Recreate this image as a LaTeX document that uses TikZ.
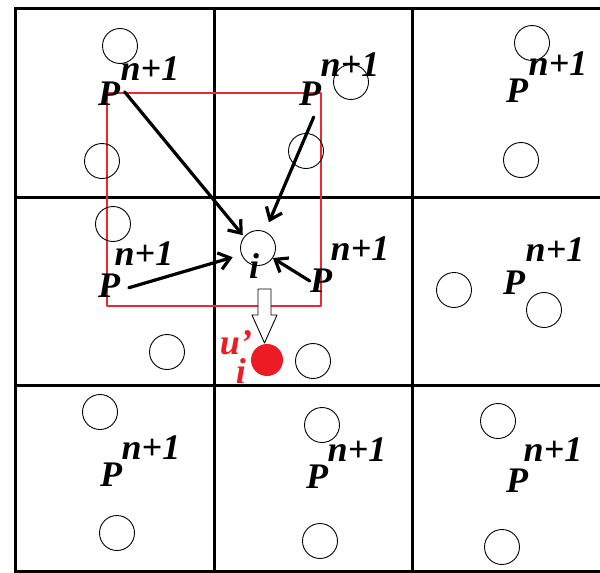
\documentclass[tikz,border=0pt]{standalone}
\usepackage{fontspec}
\setmainfont{Liberation Serif}
\usepackage{xcolor}
\usetikzlibrary{arrows.meta,calc}
\definecolor{boxred}{RGB}{236,40,50}
\definecolor{dotred}{RGB}{237,28,36}
\tikzset{
  ptc/.style={circle, draw, minimum size=35pt, inner sep=0pt, line width=0.9pt},
  hit/.style={circle, fill=dotred, minimum size=32pt, inner sep=0pt},
  lbl/.style={inner sep=0pt, font=\fontsize{36}{36}\selectfont\bfseries\itshape},
  rlbl/.style={lbl, text=dotred},
  arr/.style={line width=3.2pt, -{Straight Barb[length=11pt,width=17pt]}},
  every picture/.style={line cap=round, line join=round}
}

\begin{document}
\begin{tikzpicture}[x=1pt, y=-1pt]
  \useasboundingbox (0,0) rectangle (600,573);
  % cells
  \foreach \y in {8,197,385,571}
    \draw[line width=3pt, line cap=rect] (15,\y) -- (600,\y);
  \foreach \x in {15,214,412}
    \draw[line width=3pt, line cap=rect] (\x,8) -- (\x,573);
  % neighbourhood
  \draw[boxred, line width=1.1pt] (107,93) rectangle (321,306);
  % particles
  \node[ptc] (c1) at (120,46) {};
  \node[ptc] (c2) at (102,161) {};
  \node[ptc] (c3) at (351,82) {};
  \node[ptc] (c4) at (306,151) {};
  \node[ptc] (c5) at (532,43) {};
  \node[ptc] (c6) at (521,160) {};
  \node[ptc] (c7) at (113,224) {};
  \node[ptc] (c8) at (167,352) {};
  \node[ptc] (ci) at (258,248) {};
  \node[ptc] (c9) at (313,361) {};
  \node[ptc] (c10) at (454,290) {};
  \node[ptc] (c11) at (544,310) {};
  \node[ptc] (c12) at (100,412) {};
  \node[ptc] (c13) at (117,533) {};
  \node[ptc] (c14) at (322,425) {};
  \node[ptc] (c15) at (320,541) {};
  \node[ptc] (c16) at (498,421) {};
  \node[ptc] (c17) at (502,547) {};
  \node[hit] (ui) at (267,360) {};
  % cell labels
  \node[lbl] (p1) at (109,94) {P};
  \node[lbl] (s1) at (150,69) {n+1};
  \node[lbl] (p2) at (310,94) {P};
  \node[lbl] (s2) at (350,65) {n+1};
  \node[lbl] (p3) at (517,91) {P};
  \node[lbl] (s3) at (558,64) {n+1};
  \node[lbl] (p4) at (109,286) {P};
  \node[lbl] (s4) at (144,254) {n+1};
  \node[lbl] (p5) at (321,281) {P};
  \node[lbl] (s5) at (360,249) {n+1};
  \node[lbl] (p6) at (514,283) {P};
  \node[lbl] (s6) at (555,250) {n+1};
  \node[lbl] (p7) at (111,475) {P};
  \node[lbl] (s7) at (151,448) {n+1};
  \node[lbl] (p8) at (317,477) {P};
  \node[lbl] (s8) at (357,450) {n+1};
  \node[lbl] (p9) at (517,481) {P};
  \node[lbl] (s9) at (553,450) {n+1};
  \node[lbl] (li) at (254,266) {i};
  \node[rlbl, align=left] (lu) at (236,357) {u'\\[-7pt]\hspace*{16pt}i};
  % contributions
  \draw[arr, shorten <=7pt, shorten >=2pt] (p1.34) -- (ci.141);
  \draw[arr, shorten <=12pt, shorten >=10pt] (p2.-55) -- (ci.67);
  \draw[arr, shorten <=9pt, shorten >=9pt] (p4.-21) -- (ci.202);
  \draw[arr] (p5.west) -- (ci.326);
  % update
  \draw[line width=0.9pt, fill=white]
    (258,289) -- (271,289) -- (271,315) -- (277,315) -- (264.5,343)
    -- (252,315) -- (258,315) -- cycle;
\end{tikzpicture}
\end{document}
